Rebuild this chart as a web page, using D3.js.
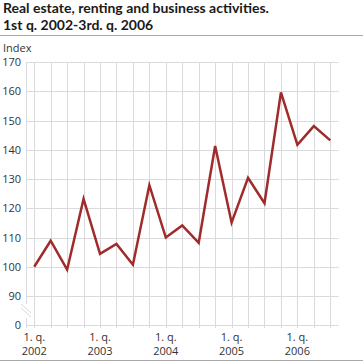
<!DOCTYPE html>
<html>
<head>
<meta charset="utf-8">
<script src="https://cdn.jsdelivr.net/npm/d3@7"></script>
<style>
body { margin: 0; background: #fff; }
svg { display: block; }
</style>
</head>
<body>
<svg id="chart" width="363" height="363"></svg>
<script>
const titleLines = ["Real estate, renting and business activities.", "1st q. 2002-3rd. q. 2006"];
const yAxisTitle = "Index";
const quarters = ["2002Q1","2002Q2","2002Q3","2002Q4","2003Q1","2003Q2","2003Q3","2003Q4",
  "2004Q1","2004Q2","2004Q3","2004Q4","2005Q1","2005Q2","2005Q3","2005Q4","2006Q1","2006Q2","2006Q3"];
const values = [100, 108.9, 99, 123.2, 104.4, 107.8, 100.7, 127.9,
  110, 114.1, 108.2, 141.3, 115.1, 130.4, 121.7, 159.6, 141.7, 148.1, 143.2];
const yTicks = [0, 90, 100, 110, 120, 130, 140, 150, 160, 170];
const xLabelQuarters = ["2002Q1", "2003Q1", "2004Q1", "2005Q1", "2006Q1"];
const xLabelTop = "1. q.";

const svg = d3.select("#chart");
const font = "'Open Sans', sans-serif";
const titleFont = "Lato, 'Open Sans', sans-serif";
const gridColor = "#d9d9de";

const left = 26, right = 338.5;
const step = (right - left) / quarters.length;
const x = d3.scalePoint().domain(quarters).range([left + step / 2, right - step / 2]);
const y = d3.scaleLinear().domain([0, 90, 170]).range([325, 296, 62]);

// title
titleLines.forEach((s, i) => svg.append("text")
  .attr("x", 3).attr("y", 13 + i * 17)
  .attr("font-family", titleFont).attr("font-weight", "bold")
  .attr("font-size", 14).attr("fill", "#1a1a1a").text(s));
svg.append("line").attr("x1", 0).attr("x2", 363).attr("y1", 35.5).attr("y2", 35.5)
  .attr("stroke", "#aaa").attr("stroke-width", 1);
svg.append("line").attr("x1", 0).attr("x2", 363).attr("y1", 360.5).attr("y2", 360.5)
  .attr("stroke", "#aaa").attr("stroke-width", 1);

// y axis title
svg.append("text").attr("x", 3).attr("y", 52).attr("font-family", font).attr("font-size", 11)
  .attr("fill", "#333").text(yAxisTitle);

// horizontal grid
svg.append("g").selectAll("line").data(yTicks).join("line")
  .attr("x1", left).attr("x2", right)
  .attr("y1", d => Math.round(y(d)) + 0.5).attr("y2", d => Math.round(y(d)) + 0.5)
  .attr("stroke", gridColor).attr("stroke-width", 1);

// vertical grid
svg.append("g").selectAll("line").data(quarters).join("line")
  .attr("x1", d => Math.round(x(d)) + 0.5).attr("x2", d => Math.round(x(d)) + 0.5)
  .attr("y1", y(170)).attr("y2", y(0) + 3)
  .attr("stroke", gridColor).attr("stroke-width", 1);

// y axis line with break
const ax = left + 0.5;
svg.append("line").attr("x1", ax).attr("x2", ax).attr("y1", y(170)).attr("y2", 304)
  .attr("stroke", gridColor);
svg.append("line").attr("x1", ax).attr("x2", ax).attr("y1", 318).attr("y2", y(0) + 3)
  .attr("stroke", gridColor);
[0, 4].forEach(o => svg.append("line")
  .attr("x1", 21).attr("y1", 304 + o).attr("x2", 31).attr("y2", 313 + o)
  .attr("stroke", gridColor).attr("stroke-width", 1));

// y tick labels
svg.append("g").selectAll("text").data(yTicks).join("text")
  .attr("x", 21).attr("y", d => y(d) + 4).attr("text-anchor", "end")
  .attr("font-family", font).attr("font-size", 11).attr("fill", "#333").text(d => d);

// x labels
const xl = svg.append("g").selectAll("text").data(xLabelQuarters).join("text")
  .attr("text-anchor", "middle").attr("font-family", font).attr("font-size", 11).attr("fill", "#333");
xl.append("tspan").attr("x", d => x(d)).attr("y", 341).text(xLabelTop);
xl.append("tspan").attr("x", d => x(d)).attr("y", 355).text(d => d.slice(0, 4));

// line
svg.append("path").datum(values)
  .attr("d", d3.line().x((d, i) => x(quarters[i])).y(d => y(d)))
  .attr("fill", "none").attr("stroke", "#a02b2b").attr("stroke-width", 2.5)
  .attr("stroke-linejoin", "miter");
</script>
</body>
</html>
